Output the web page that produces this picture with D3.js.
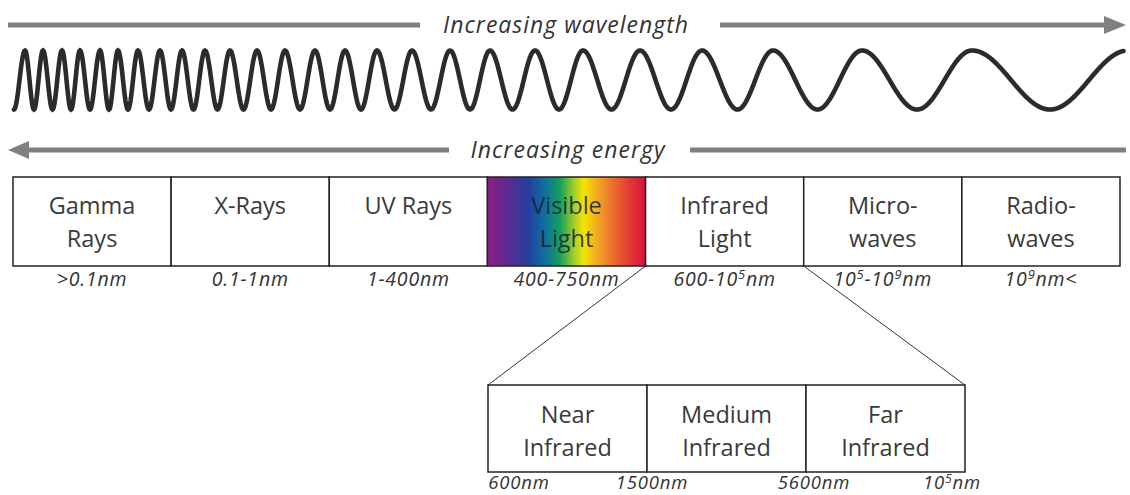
<!DOCTYPE html>
<html><head><meta charset="utf-8">
<script src="https://cdn.jsdelivr.net/npm/d3@7"></script>
<style>body{margin:0;background:#fff}svg{display:block}</style>
</head><body><svg id="c" width="1130" height="495"></svg>
<script>
// ---- data ----
const bands = ["Gamma|Rays","X-Rays","UV Rays","Visible|Light","Infrared|Light","Micro-|waves","Radio-|waves"];
const bandRanges = [[">0.1nm"],["0.1-1nm"],["1-400nm"],["400-750nm"],["600-10","5","nm"],["10","5","-10","9","nm"],["10","9","nm<"]];
const irBands = ["Near|Infrared","Medium|Infrared","Far|Infrared"];
const irBounds = [["600nm"],["1500nm"],["5600nm"],["10","5","nm"]];
const wavePeaks = [25, 43, 62, 80, 100, 118, 138, 160, 182, 205, 230, 257, 285, 315, 345, 377, 412, 450, 490, 535, 583, 640, 702, 773, 862, 972, 1128];
const spectrumStops = [["#8c1f84",0],["#5e2a92",0.12],["#243f9e",0.26],["#0f6fa0",0.36],["#16a05a",0.46],["#a6cf2a",0.55],["#f4e400",0.61],["#f4a424",0.7],["#ec6a2c",0.8],["#e23a34",0.9],["#dc1042",1]];
const arrowTexts = ["Increasing wavelength","Increasing energy"];

const svg = d3.select("#c");
const FONT = "'Open Sans', Lato, sans-serif";
const grey = "#808080";

// defs
const defs = svg.append("defs");
const grad = defs.append("linearGradient").attr("id","spec").attr("x1","0").attr("x2","1").attr("y1","0").attr("y2","0");
grad.selectAll("stop").data(spectrumStops).join("stop")
  .attr("offset",d=>d[1]).attr("stop-color",d=>d[0]);

// ---- arrows ----
function hline(y,x1,x2){ svg.append("line").attr("x1",x1).attr("x2",x2).attr("y1",y).attr("y2",y).attr("stroke",grey).attr("stroke-width",5); }
// wavelength arrow (right)
hline(25,8,420); hline(25,720,1106);
svg.append("path").attr("d","M1104,16 L1126,25 L1104,34 Z").attr("fill",grey);
svg.append("text").attr("x",566).attr("y",33).attr("text-anchor","middle")
  .attr("font-family",FONT).attr("font-style","italic").attr("font-size",23).attr("letter-spacing",1)
  .attr("fill","#333").text(arrowTexts[0]);
// energy arrow (left)
hline(150,27,449); hline(150,690,1126);
svg.append("path").attr("d","M29,141 L8,150 L29,159 Z").attr("fill",grey);
svg.append("text").attr("x",568).attr("y",158).attr("text-anchor","middle")
  .attr("font-family",FONT).attr("font-style","italic").attr("font-size",23).attr("letter-spacing",1)
  .attr("fill","#333").text(arrowTexts[1]);

// ---- wave ----
const phase = d3.scaleLinear().domain([14, ...wavePeaks]).range([-0.5, ...wavePeaks.map((d,i)=>i)]);
const yWave = d3.scaleLinear().domain([-1,1]).range([109.5,50.5]);
const xs = d3.range(14, 1124, 0.5);
svg.append("path").datum(xs)
  .attr("d", d3.line().x(d=>d).y(d=>yWave(Math.cos(2*Math.PI*phase(d)))))
  .attr("fill","none").attr("stroke","#2b2b2b").attr("stroke-width",4.6).attr("stroke-linecap","round");

// ---- main band boxes ----
const xb = d3.scaleLinear().domain([0,bands.length]).range([13,1120]);
const top1 = 177, bot1 = 266;
const g1 = svg.append("g");
g1.selectAll("rect").data(bands).join("rect")
  .attr("x",(d,i)=>xb(i)).attr("y",top1).attr("width",(d,i)=>xb(i+1)-xb(i)).attr("height",bot1-top1)
  .attr("fill",(d,i)=> d.startsWith("Visible") ? "url(#spec)" : "#fff")
  .attr("stroke","#222").attr("stroke-width",1.5);
g1.selectAll("text.lbl").data(bands).join("text").attr("class","lbl")
  .attr("x",(d,i)=>(xb(i)+xb(i+1))/2).attr("y",top1+37).attr("text-anchor","middle")
  .attr("font-family",FONT).attr("font-size",23.5)
  .attr("fill",d=> d.startsWith("Visible") ? "rgba(15,35,50,0.85)" : "#3a3a3a")
  .each(function(d){
    const t=d3.select(this);
    d.split("|").forEach((s,k)=>t.append("tspan").attr("x",t.attr("x")).attr("dy",k?33:0).text(s));
  });

function supText(sel, parts, up){
  parts.forEach((p,k)=>{
    const sp = sel.append("tspan").text(p);
    if(k%2===1){ sp.attr("font-size","0.66em").attr("dy",-up); }
    else if(k>0){ sp.attr("dy",up); }
  });
}
g1.selectAll("text.rng").data(bandRanges).join("text").attr("class","rng")
  .attr("x",(d,i)=>(xb(i)+xb(i+1))/2).attr("y",bot1+20).attr("text-anchor","middle")
  .attr("font-family",FONT).attr("font-style","italic").attr("font-size",19.5).attr("letter-spacing",0.8).attr("fill","#333")
  .each(function(d){ supText(d3.select(this), d, 7); });

// ---- zoom lines ----
const irIdx = bands.findIndex(d=>d.startsWith("Infrared"));
const xi = d3.scaleLinear().domain([0,irBands.length]).range([488,965]);
const top2 = 385, bot2 = 472;
svg.append("line").attr("x1",xb(irIdx)).attr("y1",bot1).attr("x2",xi(0)).attr("y2",top2).attr("stroke","#333").attr("stroke-width",1);
svg.append("line").attr("x1",xb(irIdx+1)).attr("y1",bot1).attr("x2",xi(irBands.length)).attr("y2",top2).attr("stroke","#333").attr("stroke-width",1);

// ---- IR boxes ----
const g2 = svg.append("g");
g2.selectAll("rect").data(irBands).join("rect")
  .attr("x",(d,i)=>xi(i)).attr("y",top2).attr("width",(d,i)=>xi(i+1)-xi(i)).attr("height",bot2-top2)
  .attr("fill","#fff").attr("stroke","#222").attr("stroke-width",1.5);
g2.selectAll("text.lbl").data(irBands).join("text").attr("class","lbl")
  .attr("x",(d,i)=>(xi(i)+xi(i+1))/2).attr("y",top2+38).attr("text-anchor","middle")
  .attr("font-family",FONT).attr("font-size",23.5).attr("fill","#3a3a3a")
  .each(function(d){
    const t=d3.select(this);
    d.split("|").forEach((s,k)=>t.append("tspan").attr("x",t.attr("x")).attr("dy",k?33:0).text(s));
  });
const boundShift = [31, 5, 8, -13];
g2.selectAll("text.rng").data(irBounds).join("text").attr("class","rng")
  .attr("x",(d,i)=>xi(i)+boundShift[i]).attr("y",bot2+17).attr("text-anchor","middle")
  .attr("font-family",FONT).attr("font-style","italic").attr("font-size",18.5).attr("letter-spacing",0.8).attr("fill","#333")
  .each(function(d){ supText(d3.select(this), d, 6); });
</script></body></html>
